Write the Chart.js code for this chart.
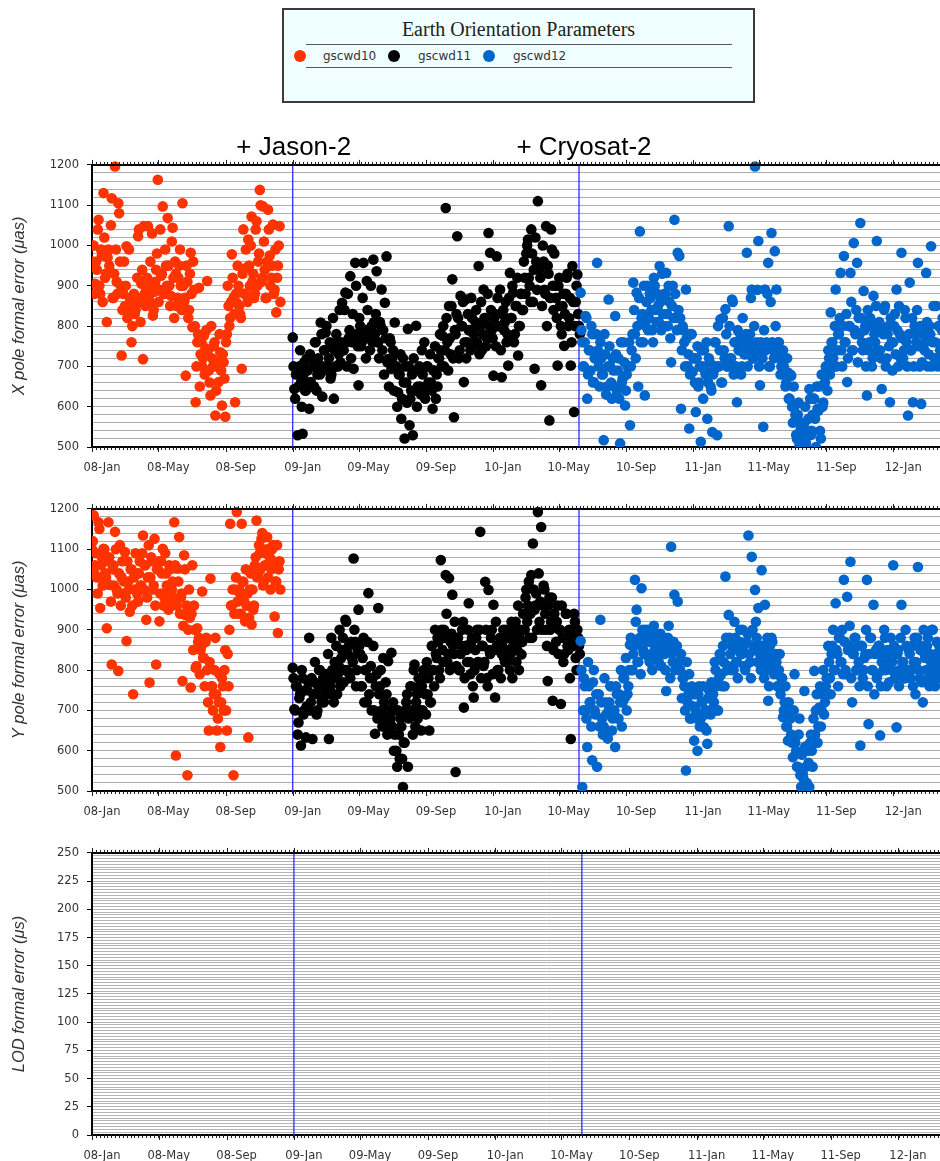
<!DOCTYPE html>
<html><head><meta charset="utf-8">
<script src="https://cdn.jsdelivr.net/npm/chart.js@4.4.0/dist/chart.umd.min.js"></script>
<style>
html,body{margin:0;padding:0;width:940px;height:1161px;overflow:hidden;background:#fff;}
canvas.cv{position:absolute;left:0;}
#legend{position:absolute;left:282px;top:8px;width:469px;height:91px;border:2px solid #3a3a3a;background:#f0ffff;}
#legend .ttl{position:absolute;left:0;top:7px;width:100%;text-align:center;font:20px/24px 'Liberation Serif','Times New Roman',serif;color:#222;}
#legend .rule{position:absolute;left:22px;width:426px;height:0;border-top:1px solid #555;}
#legend .dot{position:absolute;width:12px;height:12px;border-radius:50%;top:40px;}
#legend .lab{position:absolute;top:39px;font:12px/14px 'DejaVu Sans',sans-serif;color:#333;}
.ann{position:absolute;top:133px;font:26px/26px 'Liberation Sans',Arial,sans-serif;color:#000;transform:translateX(-50%);white-space:nowrap;z-index:5;}
</style></head><body>
<div id="legend">
  <div class="ttl">Earth Orientation Parameters</div>
  <div class="rule" style="top:34px"></div>
  <div class="rule" style="top:57px"></div>
  <div class="dot" style="left:10px;background:#ff3300"></div><div class="lab" style="left:39px">gscwd10</div>
  <div class="dot" style="left:104px;background:#000"></div><div class="lab" style="left:134px">gscwd11</div>
  <div class="dot" style="left:199px;background:#0066cc"></div><div class="lab" style="left:229px">gscwd12</div>
</div>
<canvas id="c1" class="cv" width="1000" height="330" style="top:150px"></canvas>
<canvas id="c2" class="cv" width="1000" height="330" style="top:494px"></canvas>
<canvas id="c3" class="cv" width="1000" height="330" style="top:838px"></canvas>
<div id="ann0" class="ann"></div>
<div id="ann1" class="ann"></div>
<script>
// ---- axis categories (days since 2008-01-01) ----
const monthDays = [0,121,244,366,486,609,731,851,974,1096,1216,1339,1461];
const monthLabels = ['08-Jan','08-May','08-Sep','09-Jan','09-May','09-Sep','10-Jan','10-May','10-Sep','11-Jan','11-May','11-Sep','12-Jan'];
const eventDays = [366, 888];
const eventLabels = ['+ Jason-2', '+ Cryosat-2'];
const seriesNames = ['gscwd10','gscwd11','gscwd12'];
const seriesColors = ['#ff3300','#000000','#0066cc'];
const seriesStart = [0, 366, 891];   // first epoch of each solution (day)
const sampleStep = 3;                // days between listed epochs
const midOffset = 1.5;               // the "Mid" lists sit between the main epochs
const DAY_MAX = 1646;

// ---- X pole formal error (µas) ----
const xRed = [
960,1000,905,940,1064,880,975,1130,920,810,
990,935,1117,870,1196,910,1105,960,727,880,
850,998,835,870,760,845,830,870,1023,860,
905,718,880,890,1048,860,900,826,885,940,
1163,890,925,1097,880,950,1068,900,875,1044,
820,930,870,950,900,1105,860,677,910,840,
982,797,890,611,760,895,730,700,776,745,
912,690,628,720,750,578,700,661,735,603,
710,575,780,850,820,978,870,611,858,900,
830,694,1040,880,945,1015,900,1072,930,880,
1060,960,1138,910,1097,940,870,1089,975,920,
1052,890,834,950,1048];
const xRedMid = [
1000,880,960,1040,900,990,860,1020,930,970,
950,1050,870,930,990,880,1080,900,840,960,
900,820,990,860,800,880,840,920,1040,810,
940,1048,850,920,870,960,1030,840,910,980,
860,1040,930,880,990,900,950,850,1010,920,
960,850,920,990,840,900,870,950,820,930,
880,960,800,700,780,650,760,720,680,790,
740,660,800,700,760,640,710,780,690,730,
670,760,900,800,860,920,830,880,950,850,
820,930,880,990,860,950,1000,910,870,1040,
900,980,1100,920,1010,870,960,1040,900,950,
880,990,920,1000,860];
const xBlack = [
772,644,680,529,700,660,533,710,640,690,
595,661,720,650,760,680,700,809,625,740,
784,690,720,670,750,620,700,760,730,710,
858,740,883,700,770,924,760,694,957,780,
653,800,760,957,790,912,770,740,800,965,
780,936,760,810,891,790,858,973,718,770,
694,740,809,700,636,680,570,720,521,660,
793,554,640,529,690,801,650,700,630,680,
760,640,700,644,660,595,690,620,650,720,
740,776,700,1093,760,850,730,916,574,780,
1023,720,875,800,661,866,760,790,740,820,
780,810,760,949,800,740,891,820,770,1031,
982,790,677,830,973,800,891,673,840,810,
760,702,932,820,883,780,850,727,800,880,
840,920,980,1015,900,1040,860,694,960,1110,
940,653,1000,890,1048,950,566,1040,900,980,
870,702,920,800,850,751,880,930,820,702,
949,587,860,928,800];
const xBlackMid = [
700,620,690,650,740,600,680,640,720,660,
730,650,700,760,640,720,680,780,700,740,
800,700,760,680,820,740,780,700,840,760,
740,840,760,880,790,720,830,770,900,750,
820,750,870,780,720,840,790,900,760,810,
830,760,720,800,740,680,770,710,650,760,
720,640,700,600,680,730,620,660,700,610,
700,620,680,720,640,600,690,650,740,630,
620,700,660,730,640,690,750,680,720,780,
700,800,740,820,690,770,850,720,790,830,
820,740,800,860,760,720,830,790,870,750,
760,840,800,730,860,780,820,750,880,800,
840,770,820,750,870,800,740,830,790,860,
780,870,820,900,760,850,920,800,880,840,
960,880,1000,920,860,980,940,1020,890,950,
920,850,960,880,800,930,870,990,840,900,
820,900,850,780,880,830,920,800,870,760,
860,800,900,830,780];
const xBlue = [
883,760,700,825,620,740,690,780,661,720,
957,700,760,680,517,730,650,866,700,620,
690,825,640,720,509,660,760,603,680,700,
554,740,908,780,883,650,1035,820,760,628,
860,790,880,840,760,900,810,850,949,790,
830,880,932,800,860,710,900,1064,820,982,
974,595,800,760,891,700,546,780,686,720,
587,750,660,513,700,740,680,570,720,650,
537,690,760,529,700,817,660,740,842,700,
1048,720,866,680,760,611,740,780,700,760,
730,982,740,780,891,720,1196,760,1011,653,
740,550,891,760,957,700,1031,740,986,891,
760,720,700,740,685,660,685,620,677,560,
600,530,580,505,546,520,560,510,540,644,
530,580,620,500,595,650,521,600,680,700,
640,720,834,760,700,891,740,780,932,700,
974,760,661,800,932,740,1006,780,957,820,
1056,760,887,800,628,740,820,700,875,760,
1011,800,740,644,780,850,720,800,611,760,
760,830,891,700,780,982,720,840,760,578,
908,740,611,800,760,957,700,607,780,740,
932,700,800,998,760,720,850,700,800,740,
820,760,700,780];
const xBlueMid = [
790,700,760,820,680,740,800,660,720,780,
740,650,720,680,780,630,700,750,660,720,
650,730,690,620,760,670,710,640,700,760,
700,780,840,720,800,870,760,830,900,800,
900,820,870,790,920,840,880,810,860,930,
800,880,830,900,770,850,820,880,790,840,
820,740,790,700,770,730,680,780,720,660,
720,650,700,740,620,690,760,660,710,640,
680,760,700,800,740,660,820,720,780,700,
800,720,860,760,700,790,740,680,820,730,
780,700,760,870,720,800,740,890,700,760,
720,790,740,880,700,860,760,720,800,740,
760,680,740,700,650,720,620,680,600,650,
580,520,610,540,560,510,600,530,570,620,
540,620,570,650,590,540,680,610,660,700,
740,680,760,720,800,700,780,820,740,800,
760,830,720,800,860,740,790,840,710,780,
820,740,790,700,840,760,800,720,780,850,
740,810,720,790,840,700,780,750,820,690,
800,730,790,850,720,770,740,820,700,780,
740,820,700,780,840,750,800,710,790,760,
810,730,780,700,850,760,720,800,740,790,
760,820,720,780];

// ---- Y pole formal error (µas) ----
const yRed = [
1100,1184,1060,1030,1167,954,1080,1101,1040,904,
1167,1011,814,1060,1143,1000,798,1110,1030,990,
1093,872,1020,945,1050,740,1000,1040,970,1070,
1010,1134,1060,925,1030,769,1080,1000,1126,814,
1050,921,1070,1101,980,1040,1000,1060,970,1020,
1167,588,1052,1130,980,773,1085,937,539,1000,
757,1060,960,806,904,880,850,995,830,870,
800,650,1027,760,740,880,650,720,609,780,
700,850,650,760,1163,960,539,1000,1192,940,
990,1163,1019,921,960,633,1000,913,950,1060,
1171,1040,1090,1126,1010,1060,1100,1030,1080,1050,
1110,933,1020,892,1070];
const yRedMid = [
1120,1040,1090,990,1150,1060,1010,1100,1030,1070,
1080,970,1050,1010,1100,990,1040,960,1070,1020,
980,1070,1000,1050,960,1030,1090,990,1040,1010,
1090,1000,1060,980,1110,1030,1070,1010,960,1050,
1070,990,1040,960,1090,1010,950,1050,1000,980,
1060,960,1020,940,990,910,1050,960,900,930,
940,850,900,810,870,790,860,830,760,880,
720,820,760,700,800,740,680,790,720,760,
800,700,840,900,960,1000,940,1030,970,1000,
940,1020,970,1050,990,930,1040,1000,960,1080,
1030,1110,1050,1140,1020,1090,1130,1060,1000,1100,
1070,1020,1110,1050,1000];
const yBlack = [
806,703,760,640,730,613,780,700,633,750,
880,720,629,770,740,700,800,760,730,720,
790,740,629,760,800,720,780,740,810,760,
850,770,925,800,860,780,830,1077,870,800,
950,840,760,880,800,720,991,780,700,860,
642,790,954,760,700,830,680,740,822,660,
843,720,640,600,700,580,660,510,620,720,
560,690,760,640,814,720,680,760,650,700,
780,690,740,650,720,800,760,840,880,800,
1073,850,900,1036,820,1028,870,987,840,547,
880,800,840,900,707,860,820,966,790,880,
732,850,900,820,1143,860,810,1019,780,999,
840,900,962,732,860,800,880,840,900,820,
850,880,800,920,860,900,820,960,880,839,
940,900,1000,960,880,1036,1114,950,990,1192,
920,1155,960,1000,900,773,980,920,724,940,
870,960,900,716,880,840,940,860,900,629,
880,940,830,900,860];
const yBlackMid = [
780,700,760,670,740,800,690,750,710,770,
700,780,740,820,690,760,800,720,780,750,
760,840,780,880,740,820,860,790,900,830,
880,800,920,840,790,870,820,900,760,850,
860,760,830,720,800,870,740,810,780,700,
760,680,740,800,660,720,770,640,700,680,
660,600,700,560,640,680,580,620,700,740,
680,760,700,800,660,740,780,700,760,800,
740,820,780,720,860,800,900,830,870,780,
900,820,880,940,840,800,890,860,920,810,
880,800,860,920,780,850,900,820,870,760,
800,880,820,900,780,860,820,900,760,850,
880,790,850,920,800,860,780,870,830,900,
820,900,840,780,880,920,850,800,900,870,
900,980,920,1020,940,880,1000,960,900,1040,
970,900,1010,940,860,960,900,980,850,920,
920,840,900,960,820,880,940,850,780,900,
860,920,800,880,840];
const yBlue = [
872,510,780,700,609,760,720,576,800,690,
560,740,925,680,660,720,640,700,760,650,
690,609,740,680,720,660,780,732,700,760,
863,800,840,1024,950,820,880,1003,850,900,
840,870,820,880,900,850,830,880,860,810,
870,840,748,880,860,1106,820,987,850,970,
800,840,780,760,551,720,790,680,740,625,
700,600,760,680,720,658,700,617,750,690,
760,720,800,700,780,840,760,820,1032,800,
937,840,860,800,880,820,850,900,840,860,
800,870,1134,820,1081,860,999,880,954,840,
1048,820,962,800,724,860,880,840,800,820,
760,840,780,683,720,660,625,700,640,584,
790,600,560,680,510,543,748,560,600,510,
640,560,798,700,620,707,660,740,690,760,
780,820,740,860,800,966,840,880,820,900,
1024,800,982,860,1069,720,840,880,800,820,
613,860,800,840,1024,666,880,800,962,840,
780,860,638,820,800,880,760,840,820,800,
1060,780,658,850,800,962,820,780,860,800,
840,800,760,880,820,1056,780,860,720,840,
800,880,760,820,900,780,840,800,860,820,
780,840,800,860];
const yBlueMid = [
800,700,760,680,820,720,660,770,700,740,
740,660,720,640,780,690,630,720,760,680,
700,760,680,740,800,720,780,830,740,800,
880,800,860,920,820,870,790,900,840,880,
900,830,870,800,910,850,880,820,890,840,
880,800,850,910,780,840,870,800,860,820,
800,730,780,700,820,740,680,760,710,740,
680,740,660,720,760,690,650,730,700,770,
740,820,760,700,840,790,860,760,880,810,
880,800,860,920,820,780,870,840,900,810,
810,890,840,780,900,850,920,820,860,800,
860,780,840,880,760,820,870,790,840,760,
800,740,780,700,760,660,720,680,620,700,
620,560,640,540,590,530,610,520,570,620,
600,680,640,740,660,760,700,800,720,780,
860,780,840,900,800,850,760,880,820,790,
870,790,850,910,780,840,880,800,860,760,
860,780,830,900,760,840,880,800,740,850,
790,860,760,840,900,800,850,770,880,820,
860,790,840,760,880,820,780,900,800,850,
780,860,820,740,880,800,850,770,900,830,
860,780,840,900,800,760,870,820,780,850,
820,780,860,800];

// ---- LOD formal error (µs): no values plotted ----
const lodRed = [];
const lodBlack = [];
const lodBlue = [];

function series(start, vals) { return vals.map((v, i) => ({x: start + i * sampleStep, y: v})); }
function both(start, main, mid) { return series(start, main).concat(series(start + midOffset, mid)); }

const framePlugin = {
  id: 'frame',
  afterDraw(chart) {
    const {ctx, chartArea: a, scales: {x}} = chart;
    ctx.save();
    ctx.strokeStyle = '#000';
    ctx.lineWidth = 2;
    ctx.beginPath(); ctx.moveTo(a.left - 1, a.top); ctx.lineTo(a.right, a.top); ctx.stroke();
    ctx.lineWidth = 1;
    ctx.strokeStyle = '#222';
    ctx.beginPath();
    for (let d = 0; d <= x.max; d += 7) {
      const p = Math.round(x.getPixelForValue(d)) + 0.5;
      ctx.moveTo(p, a.bottom); ctx.lineTo(p, a.bottom + 3);
      ctx.moveTo(p, a.top); ctx.lineTo(p, a.top - 3);
    }
    monthDays.forEach(d => {
      const p = Math.round(x.getPixelForValue(d)) + 0.5;
      ctx.moveTo(p, a.bottom); ctx.lineTo(p, a.bottom + 5);
      ctx.moveTo(p, a.top); ctx.lineTo(p, a.top - 5);
    });
    ctx.stroke();
    ctx.restore();
  }
};

function isMult(v, m) { const r = Math.abs(v / m - Math.round(v / m)); return r < 1e-6; }

function makePanel(id, yMin, yMax, yStep, yLabelStep, title, gridColor, sets) {
  const evSets = eventDays.map(d => ({
    data: [{x: d, y: yMin}, {x: d, y: yMax}], showLine: true, borderColor: '#2b2bff',
    borderWidth: 1.3, pointRadius: 0, order: 10, clip: 0
  }));
  return new Chart(document.getElementById(id), {
    type: 'scatter',
    data: {datasets: [
      {label: seriesNames[0], data: sets[0], backgroundColor: seriesColors[0], order: 3},
      {label: seriesNames[1], data: sets[1], backgroundColor: seriesColors[1], order: 2},
      {label: seriesNames[2], data: sets[2], backgroundColor: seriesColors[2], order: 1},
      ...evSets
    ]},
    options: {
      responsive: false, animation: false, devicePixelRatio: 1,
      layout: {padding: {top: 13, left: 0, right: 0, bottom: 0}},
      plugins: {legend: {display: false}, tooltip: {enabled: false}},
      elements: {point: {radius: 5.3, hoverRadius: 5.3, borderWidth: 0}},
      datasets: {scatter: {clip: {left: 0, right: 0, top: 6, bottom: 0}}},
      scales: {
        x: {
          type: 'linear', min: 0, max: DAY_MAX,
          afterBuildTicks: s => { s.ticks = monthDays.map(v => ({value: v})); },
          afterFit: s => { s.height = 33; },
          grid: {display: false},
          border: {display: true, color: '#000', width: 2},
          ticks: {autoSkip: false, maxRotation: 0, padding: 6, labelOffset: 10, color: '#333',
                  font: {family: 'DejaVu Sans', size: 11.5},
                  callback: v => monthLabels[monthDays.indexOf(v)]}
        },
        y: {
          min: yMin, max: yMax,
          afterFit: s => { s.width = 92; },
          ticks: {stepSize: yStep, maxTicksLimit: 1000, autoSkip: false, padding: 8, color: '#333',
                  font: {family: 'DejaVu Sans', size: 11.5},
                  callback: v => isMult(v, yLabelStep) ? String(v) : ''},
          grid: {color: gridColor, lineWidth: 1, tickLength: 5,
                 tickColor: c => (c.tick && isMult(c.tick.value, yLabelStep)) ? '#000' : 'rgba(0,0,0,0)'},
          border: {display: true, color: '#000', width: 2},
          title: {display: true, text: title, color: '#333',
                  font: {family: 'Liberation Sans', size: 16.5, style: 'italic'},
                  padding: {top: 10, bottom: 0}}
        }
      }
    },
    plugins: [framePlugin]
  });
}

const ch1 = makePanel('c1', 500, 1200, 20, 100, 'X pole formal error (\u03bcas)', '#ababab', [
  both(seriesStart[0], xRed, xRedMid), both(seriesStart[1], xBlack, xBlackMid), both(seriesStart[2], xBlue, xBlueMid)]);
makePanel('c2', 500, 1200, 20, 100, 'Y pole formal error (\u03bcas)', '#ababab', [
  both(seriesStart[0], yRed, yRedMid), both(seriesStart[1], yBlack, yBlackMid), both(seriesStart[2], yBlue, yBlueMid)]);
makePanel('c3', 0, 250, 2.5, 25, 'LOD formal error (\u03bcs)', '#b4b4b4', [
  series(seriesStart[0], lodRed), series(seriesStart[1], lodBlack), series(seriesStart[2], lodBlue)]);

const annShift = [1, 5];
eventDays.forEach((d, i) => {
  const el = document.getElementById('ann' + i);
  el.textContent = eventLabels[i];
  el.style.left = (ch1.scales.x.getPixelForValue(d) + annShift[i]) + 'px';
});
</script>
</body></html>
